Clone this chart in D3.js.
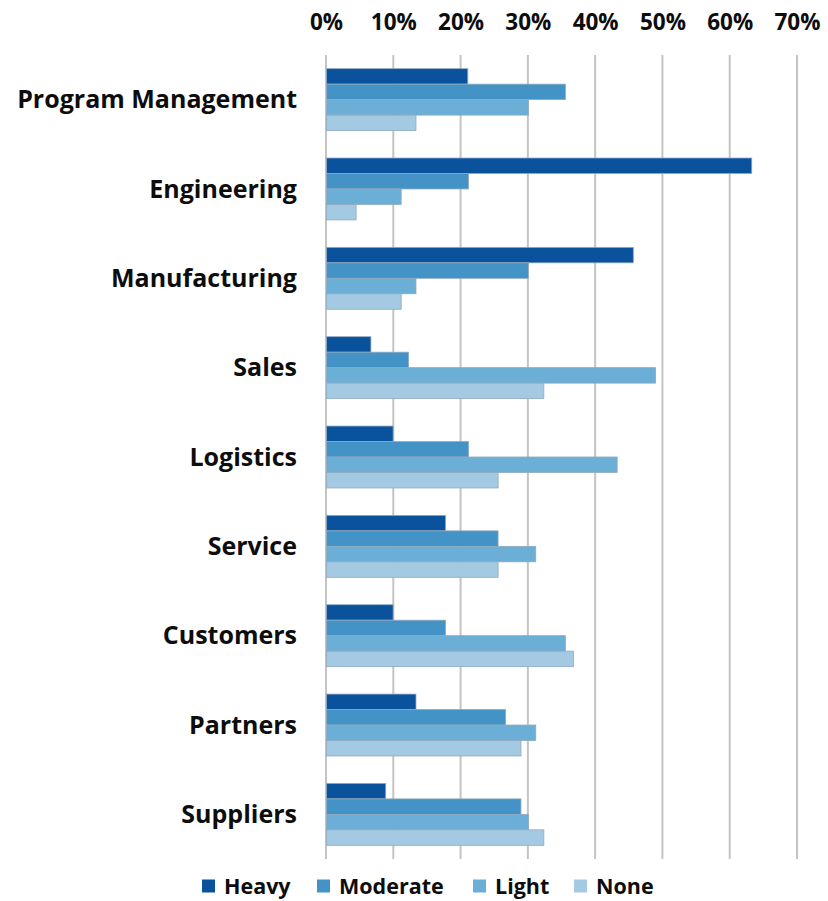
<!DOCTYPE html>
<html>
<head>
<meta charset="utf-8">
<script src="https://cdn.jsdelivr.net/npm/d3@7"></script>
<style>
  html, body { margin: 0; padding: 0; background: #fff; }
  svg text { font-family: "Open Sans", "Lato", sans-serif; font-weight: 700; fill: #0d0d0d; }
</style>
</head>
<body>
<svg id="chart" width="828" height="901"></svg>
<script>
// Survey responses by function (share of respondents, %)
const categories = ["Program Management", "Engineering", "Manufacturing", "Sales",
  "Logistics", "Service", "Customers", "Partners", "Suppliers"];
const seriesNames = ["Heavy", "Moderate", "Light", "None"];
const heavy    = [21.0, 63.2, 45.6,  6.6,  9.9, 17.7,  9.9, 13.3,  8.8];
const moderate = [35.5, 21.1, 30.0, 12.2, 21.1, 25.5, 17.7, 26.6, 28.9];
const light    = [30.0, 11.1, 13.3, 48.9, 43.2, 31.1, 35.5, 31.1, 30.0];
const none     = [13.3,  4.4, 11.1, 32.3, 25.5, 25.5, 36.7, 28.9, 32.3];
const tickValues = [0, 10, 20, 30, 40, 50, 60, 70];
const colors = ["#0b529c", "#4393c6", "#6bafd7", "#a3cae2"];

const seriesValues = [heavy, moderate, light, none];
const rows = categories.map((c, i) => ({
  category: c,
  values: seriesNames.map((s, j) => ({ series: s, value: seriesValues[j][i] }))
}));

const svg = d3.select("#chart");
const plotLeft = 326, plotRight = 797, plotTop = 55, plotBottom = 859;

const x = d3.scaleLinear().domain([0, 70]).range([plotLeft, plotRight]);
const y = d3.scaleBand().domain(categories).range([plotTop, plotBottom])
  .paddingInner(0.307).paddingOuter(0.153);
const ySub = d3.scaleBand().domain(seriesNames).range([0, y.bandwidth()]);
const color = d3.scaleOrdinal().domain(seriesNames).range(colors);

// vertical gridlines
svg.append("g")
  .selectAll("line")
  .data(tickValues)
  .join("line")
  .attr("x1", d => x(d)).attr("x2", d => x(d))
  .attr("y1", plotTop).attr("y2", plotBottom)
  .attr("stroke", "#c4c4c4")
  .attr("stroke-width", 2);

// top axis labels
const xAxis = d3.axisTop(x).tickValues(tickValues).tickFormat(d => d + "%").tickSize(0).tickPadding(0);
const axisG = svg.append("g").attr("transform", "translate(0, 30)").call(xAxis);
axisG.select(".domain").remove();
axisG.selectAll("text")
  .attr("font-size", 22.5)
  .style("font-family", "\"Open Sans\", sans-serif")
  .style("font-weight", 700)
  .attr("fill", "#0d0d0d");

// bars
const groups = svg.append("g")
  .selectAll("g")
  .data(rows)
  .join("g")
  .attr("transform", d => `translate(0, ${y(d.category)})`);

groups.selectAll("rect")
  .data(d => d.values)
  .join("rect")
  .attr("x", x(0) + 0.5)
  .attr("y", d => ySub(d.series))
  .attr("width", d => x(d.value) - x(0))
  .attr("height", ySub.bandwidth())
  .attr("fill", d => color(d.series))
  .attr("stroke", "#8fa9bf")
  .attr("stroke-width", 0.8);

// category labels
svg.append("g")
  .selectAll("text")
  .data(categories)
  .join("text")
  .attr("x", 297)
  .attr("y", d => y(d) + y.bandwidth() / 2)
  .attr("dy", "0.35em")
  .attr("text-anchor", "end")
  .attr("font-size", 25)
  .text(d => d);

// legend
const legendItems = [
  { name: "Heavy", x: 202 },
  { name: "Moderate", x: 317 },
  { name: "Light", x: 473 },
  { name: "None", x: 574 }
];
const legend = svg.append("g")
  .selectAll("g")
  .data(legendItems)
  .join("g")
  .attr("transform", d => `translate(${d.x}, 886)`);
legend.append("rect")
  .attr("x", 0).attr("y", -6.5)
  .attr("width", 13).attr("height", 13)
  .attr("fill", d => color(d.name));
legend.append("text")
  .attr("x", 22).attr("y", 0).attr("dy", "0.36em")
  .attr("font-size", 21.5)
  .text(d => d.name);
</script>
</body>
</html>
